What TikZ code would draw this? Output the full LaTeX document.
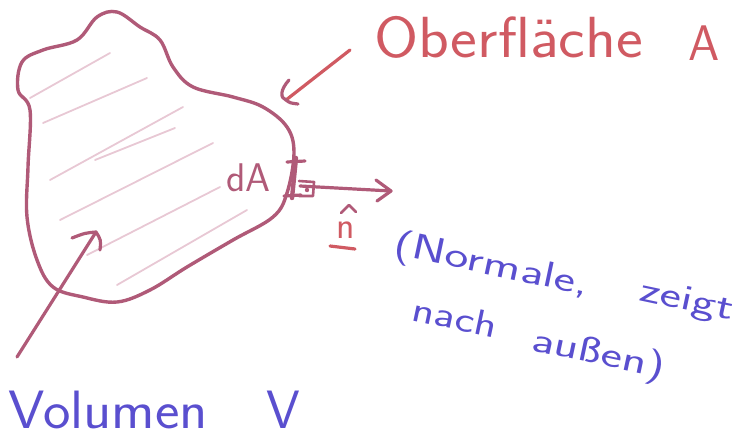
\documentclass[tikz,border=0pt]{standalone}
\usepackage{fontspec}
\definecolor{mauve}{HTML}{B05A78}
\definecolor{hred}{HTML}{D05A62}
\definecolor{hblue}{HTML}{5A4FCF}
\definecolor{hatch}{HTML}{E8C8D4}
\tikzset{
  outline/.style={draw=mauve, line width=3.4pt, line join=round},
  hatchline/.style={draw=hatch, line width=1.8pt, line cap=round},
  pen/.style={line width=3.2pt, line cap=round, line join=round},
  lbl/.style={inner sep=0pt, font=\sffamily},
  bluetxt/.style={lbl, text=hblue, font=\sffamily\fontsize{36}{38}\selectfont, anchor=base west, rotate=-12},
}
\begin{document}
\begin{tikzpicture}[x=1pt,y=-1pt]
\useasboundingbox (0,0) rectangle (741,445);
% hatching
\foreach \a/\b in {{30,98}/{110,53},{43,123}/{147,78},{50,180}/{183,107},{60,220}/{213,143},{87,255}/{220,187},{117,285}/{247,210},{95,160}/{175,128}}
  \draw[hatchline] (\a) -- (\b);
% body
\draw[outline] plot[smooth cycle, tension=0.6] coordinates {
 (97,17) (117,12) (140,27) (160,40) (173,67) (193,87) (233,97) (263,107)
 (287,127) (294,153) (287,193) (273,217) (233,240) (187,267) (150,290)
 (117,302) (83,297) (53,287) (37,260) (27,217) (28,167) (30,110)
 (18,90) (22,62) (43,50) (77,40)};
% labels
\node[lbl, text=hred, font=\sffamily\fontsize{58}{60}\selectfont, anchor=base west] (ober) at (374,57) {\scalebox{1.1}[1]{Oberfläche}};
\node[lbl, text=hred, font=\sffamily\fontsize{50}{52}\selectfont, anchor=base west] (Alab) at (688,60) {A};
\node[lbl, text=mauve, font=\sffamily\fontsize{40}{42}\selectfont, anchor=base west] (dA) at (226,191) {dA};
\node[lbl, text=hred, font=\sffamily\fontsize{38}{40}\selectfont, anchor=base] (nhat) at (346,238) {n};
\draw[mauve, pen, line width=2.6pt] (341,213) -- (349,205) -- (356,212);
\draw[hred, pen] (330,246) -- (355,249);
\node[bluetxt] (w1) at (392,254) {\scalebox{1.42}[1]{(Normale,}};
\node[bluetxt] (w2) at (638,300) {\scalebox{1.42}[1]{zeigt}};
\node[bluetxt] (w3) at (410,320) {\scalebox{1.3}[1]{nach}};
\node[bluetxt] (w4) at (530,350) {\scalebox{1.42}[1]{außen)}};
\node[lbl, text=hblue, font=\sffamily\fontsize{54}{56}\selectfont, anchor=base west] (vol) at (8,428) {\scalebox{1.08}[1]{Volumen}};
\node[lbl, text=hblue, font=\sffamily\fontsize{54}{56}\selectfont, anchor=base west] (Vlab) at (266,428) {V};
% surface element
\coordinate (ptop) at (296,158);
\coordinate (pbot) at (292,198);
\draw[mauve, pen, line width=4.4pt] (ptop) -- (pbot);
\draw[mauve, pen] (287,162) -- (305,161);
\draw[mauve, pen] (284,196) -- (301,195);
\draw[mauve, pen, line width=2.6pt] (299,181) -- (314,182) -- (313,196) -- (299,196);
\fill[mauve] (307,190) circle (2.2pt);
% normal vector
\coordinate (nstart) at (300,186);
\coordinate (ntip) at (391,191);
\coordinate (nw1) at (376,180);
\coordinate (nw2) at (377,201);
\draw[mauve, pen] (nstart) -- (ntip);
\draw[mauve, pen] (nw1) -- (ntip) -- (nw2);
% arrow to surface
\coordinate (stail) at (350,50);
\coordinate (stip) at (286,100);
\coordinate (sw1) at (289,80);
\coordinate (sw2) at (298,104);
\draw[hred, pen] (stail) -- (stip);
\draw[mauve, pen] (sw1) .. controls (280,90) and (280,98) .. (stip) .. controls (290,103) .. (sw2);
% arrow to volume
\coordinate (vtail) at (17,357);
\coordinate (vtip) at (96,232);
\coordinate (vw1) at (72,238);
\coordinate (vw2) at (100,250);
\draw[mauve, pen] (vtail) -- (vtip);
\draw[mauve, pen] (vw1) .. controls (85,233) .. (vtip) .. controls (101,240) .. (vw2);
\end{tikzpicture}
\end{document}
